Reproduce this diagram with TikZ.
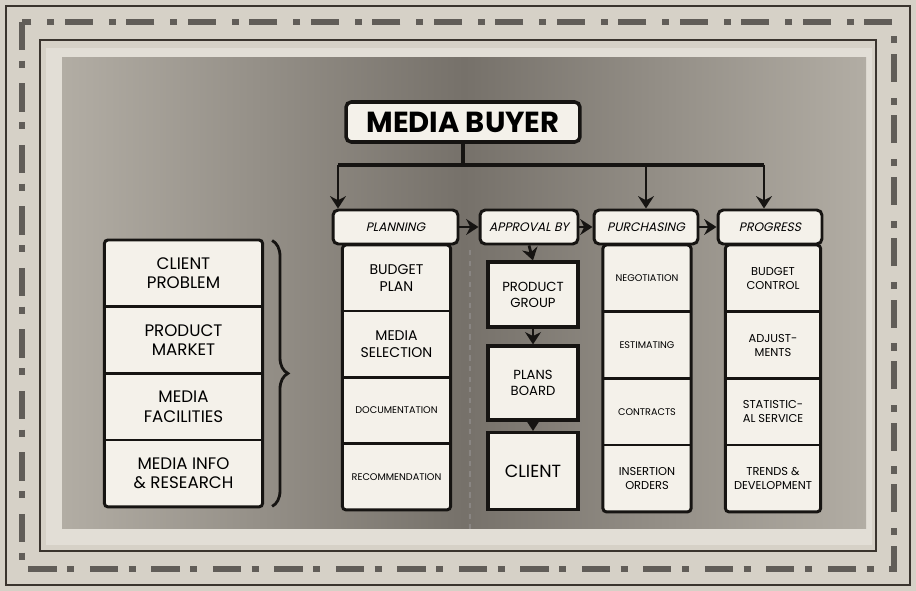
\documentclass[tikz,border=0pt]{standalone}
\usepackage{fontspec}
\setmainfont{Poppins}
\newfontfamily\hdfont[FakeSlant=0.22]{Poppins}
\usepackage{tikz}
\usetikzlibrary{
  arrows.meta,
  positioning,
  fit,
  backgrounds,
  decorations.pathreplacing,
  calc
}
\definecolor{FrameLight}{RGB}{214,209,199}
\definecolor{FrameDark}{RGB}{58,52,46}
\definecolor{LipGray}{RGB}{226,222,214}
\definecolor{PanelMid}{RGB}{118,113,106}
\definecolor{PanelEdge}{RGB}{178,173,164}
\definecolor{CardWhite}{RGB}{244,241,234}
\definecolor{InkBlack}{RGB}{22,20,18}
\tikzset{
  %%── 顶部主框 ─────────────────────────────
  buyer/.style = {
    rectangle, rounded corners = 3pt,
    draw = InkBlack, fill = CardWhite, line width = 2pt,
    minimum width = 4.68cm, minimum height = 0.80cm,
    font = \fontsize{16.5}{18}\selectfont\bfseries
  },
  %%── 栏目标题 ─────────────────────────────
  head/.style = {
    rectangle, rounded corners = 3pt,
    draw = InkBlack, fill = CardWhite, line width = 1.7pt,
    minimum height = 0.68cm, inner sep = 1pt,
    font = \hdfont\fontsize{7}{8}\selectfont
  },
  %%── 栏内格子 ─────────────────────────────
  cell/.style = {
    rectangle, draw = InkBlack, fill = CardWhite, line width = 0.7pt,
    minimum width = #1, minimum height = 1.30cm,
    align = center, inner sep = 1pt
  },
  abox/.style = {
    rectangle, draw = InkBlack, fill = CardWhite, line width = 1.8pt,
    minimum width = 1.80cm, align = center, inner sep = 1pt,
    font = \fontsize{7.5}{9}\selectfont
  },
  colbox/.style = {
    rectangle, rounded corners = 2pt,
    draw = InkBlack, line width = 1.7pt, inner sep = 0pt
  },
  %%── 连线 ─────────────────────────────────
  wire/.style = {line width = 1.8pt, color = InkBlack},
  arr/.style  = {-{Stealth[length=7pt,width=9pt]}, line width = 1.6pt, color = InkBlack},
}
\begin{document}
\begin{tikzpicture}[x=0.02cm, y=-0.02cm, node distance = 0pt]

  \useasboundingbox (0,0) rectangle (916,591);

  %% ── 画框与底板 ──────────────────────────────
  \fill[FrameLight] (0,0) rectangle (916,591);
  \draw[FrameDark, line width=1.2pt] (6,6) rectangle (910,585);
  \draw[FrameDark!80, line width=3.5pt, dash pattern=on 16pt off 6pt on 4pt off 9pt]
    (22,22) rectangle (894,569);
  \draw[FrameDark, line width=1.5pt] (40,40) rectangle (876,551);
  \fill[LipGray] (46,48) rectangle (872,545);
  \shade[left color=PanelEdge, right color=PanelEdge, middle color=PanelMid]
    (62,58) rectangle (866,528);
  \draw[FrameDark!60, dashed, line width=1pt] (470,250) -- (470,530);

  %% ── 顶部：MEDIA BUYER ──────────────────────
  \node[buyer] (buy) at (463,122) {MEDIA BUYER};

  %% ── 栏目标题 ────────────────────────────────
  \node[head, minimum width=2.50cm] (hPlan) at (395.5,227) {PLANNING};
  \node[head, minimum width=1.96cm] (hAppr) at (529,227)   {APPROVAL BY};
  \node[head, minimum width=2.08cm] (hPur)  at (646,227)   {PURCHASING};
  \node[head, minimum width=2.08cm] (hProg) at (770,227)   {PROGRESS};

  %% ── 左栏：客户资料 ──────────────────────────
  \begin{scope}[font=\fontsize{9.5}{11}\selectfont]
    \node[cell=3.14cm, minimum height=1.31cm, anchor=north] (l1) at (183.5,240) {CLIENT\\PROBLEM};
    \node[cell=3.14cm, minimum height=1.31cm, below=of l1] (l2) {PRODUCT\\MARKET};
    \node[cell=3.14cm, minimum height=1.31cm, below=of l2] (l3) {MEDIA\\FACILITIES};
    \node[cell=3.14cm, minimum height=1.31cm, below=of l3] (l4) {MEDIA INFO\\\& RESEARCH};
  \end{scope}
  \node[colbox, fit=(l1)(l4)] (gL) {};

  %% ── 列 1：PLANNING ─────────────────────────
  \begin{scope}[font=\fontsize{8}{9.5}\selectfont]
    \node[cell=2.14cm, anchor=north] (p1) at (396.5,245) {BUDGET\\PLAN};
    \node[cell=2.14cm, below=of p1] (p2) {MEDIA\\SELECTION};
    \node[cell=2.14cm, below=of p2, font=\fontsize{5.5}{7}\selectfont] (p3) {DOCUMENTATION};
    \node[cell=2.14cm, below=of p3, font=\fontsize{5.5}{7}\selectfont] (p4) {RECOMMENDATION};
  \end{scope}
  \node[colbox, fit=(p1)(p4)] (gP) {};

  %% ── 列 2：APPROVAL BY ──────────────────────
  \node[abox, minimum height=1.30cm] (a1) at (533,294.5) {PRODUCT\\GROUP};
  \node[abox, minimum height=1.48cm] (a2) at (533,383)   {PLANS\\BOARD};
  \node[abox, minimum height=1.54cm, font=\fontsize{10}{12}\selectfont] (a3) at (533,471) {CLIENT};

  %% ── 列 3：PURCHASING ───────────────────────
  \begin{scope}[font=\fontsize{5.5}{7}\selectfont]
    \node[cell=1.74cm, minimum height=1.31cm, anchor=north] (u1) at (647,245) {NEGOTIATION};
    \node[cell=1.74cm, minimum height=1.31cm, below=of u1] (u2) {ESTIMATING};
    \node[cell=1.74cm, minimum height=1.31cm, below=of u2] (u3) {CONTRACTS};
    \node[cell=1.74cm, minimum height=1.31cm, below=of u3, font=\fontsize{6.5}{8}\selectfont] (u4) {INSERTION\\ORDERS};
  \end{scope}
  \node[colbox, fit=(u1)(u4)] (gU) {};

  %% ── 列 4：PROGRESS ─────────────────────────
  \begin{scope}[font=\fontsize{6.5}{8}\selectfont]
    \node[cell=1.88cm, minimum height=1.31cm, anchor=north] (g1) at (773,245) {BUDGET\\CONTROL};
    \node[cell=1.88cm, minimum height=1.31cm, below=of g1] (g2) {ADJUST-\\MENTS};
    \node[cell=1.88cm, minimum height=1.31cm, below=of g2] (g3) {STATISTIC-\\AL SERVICE};
    \node[cell=1.88cm, minimum height=1.31cm, below=of g3] (g4) {TRENDS \&\\DEVELOPMENT};
  \end{scope}
  \node[colbox, fit=(g1)(g4)] (gG) {};

  %% ── 花括号 ──────────────────────────────────
  \draw[wire, line width=1.6pt, decorate, decoration={brace, amplitude=9pt}]
    (gL.north east) ++(8,2) -- ($(gL.south east)+(8,-2)$);

  %% ── 箭头：MEDIA BUYER → 各栏 ────────────────
  \coordinate (busL) at (338,165);
  \coordinate (busR) at (764,165);
  \draw[wire] (buy.south) -- (buy.south |- busL);
  \draw[wire] (busL) -- (busR);
  \draw[arr] (busL) -- (busL |- hPlan.north);
  \draw[arr] (hPur.north |- busL) -- (hPur.north);
  \draw[arr] (busR) -- (busR |- hProg.north);

  %% ── 箭头：标题之间 ──────────────────────────
  \draw[arr] (hPlan.east) -- (hAppr.west);
  \draw[arr] (hAppr.east) -- (hPur.west);
  \draw[arr] (hPur.east)  -- (hProg.west);

  %% ── 箭头：审批顺序 ──────────────────────────
  \draw[arr] (hAppr.south) -- (a1.north);
  \draw[arr] (a1.south) -- (a2.north);
  \draw[arr] (a2.south) -- (a3.north);

\end{tikzpicture}
\end{document}
